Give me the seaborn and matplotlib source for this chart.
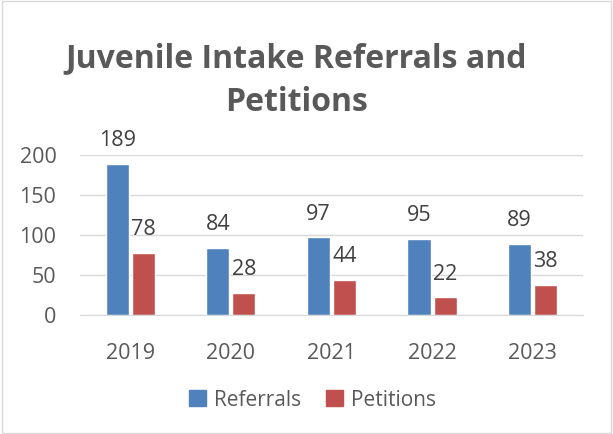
import matplotlib.pyplot as plt
import matplotlib.patches as mpatches
import seaborn as sns
import pandas as pd

years = ["2019", "2020", "2021", "2022", "2023"]
referrals = [189, 84, 97, 95, 89]
petitions = [78, 28, 44, 22, 38]
series = ["Referrals", "Petitions"]
colors = ["#4F81BD", "#C0504D"]

df = pd.DataFrame({
    "year": years * 2,
    "value": referrals + petitions,
    "series": [series[0]] * len(years) + [series[1]] * len(years),
})

sns.set_style("white")
plt.rcParams["font.family"] = ["Open Sans", "DejaVu Sans"]

fig = plt.figure(figsize=(6.13, 4.34), dpi=100)
ax = fig.add_axes([0.1305, 0.2742, 0.8205, 0.3687])

sns.barplot(data=df, x="year", y="value", hue="series", palette=colors,
            saturation=1, width=0.52, gap=0.12, ax=ax, legend=False)

for cont in ax.containers:
    ax.bar_label(cont, padding=9, fontsize=15.5, color="#404040")

ax.set_ylim(0, 200)
ax.set_yticks([0, 50, 100, 150, 200])
ax.yaxis.grid(True, color="#D9D9D9", linewidth=1)
ax.set_axisbelow(True)
for s in ["top", "right", "left"]:
    ax.spines[s].set_visible(False)
ax.spines["bottom"].set_color("#D9D9D9")
ax.tick_params(axis="both", labelsize=15.5, colors="#595959", length=0)
ax.tick_params(axis="x", pad=20)
ax.tick_params(axis="y", pad=17)
ax.set_xlabel("")
ax.set_ylabel("")

fig.text(0.483, 0.815, "Juvenile Intake Referrals and\nPetitions", ha="center",
         va="center", fontsize=23, fontweight="bold", color="#595959",
         linespacing=1.45)

handles = [mpatches.Patch(color=c, label=l) for c, l in zip(colors, series)]
fig.legend(handles=handles, loc="center", bbox_to_anchor=(0.51, 0.078), ncol=2,
           frameon=False, fontsize=15, handlelength=0.8, handleheight=0.8,
           columnspacing=1.2, handletextpad=0.4, labelcolor="#595959")

fig.add_artist(mpatches.Rectangle((0.003, 0.003), 0.994, 0.994, transform=fig.transFigure,
                                  fill=False, edgecolor="#D9D9D9", linewidth=1))

fig.savefig("out.png", dpi=100)
